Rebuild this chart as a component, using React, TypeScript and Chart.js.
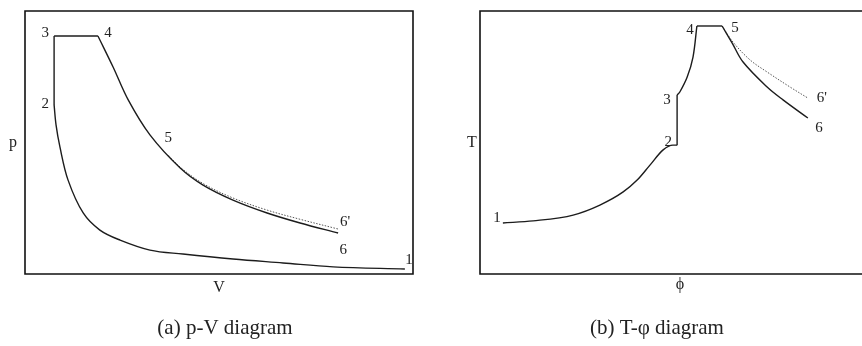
import React, { useEffect, useRef } from "react";
import { Chart, registerables } from "chart.js";
Chart.register(...registerables);

const W = 862;
const H = 346;

// ---------- (a) p-V diagram (normalised units 0..100) ----------
const pvCompV = [97.9, 79.4, 66.5, 53.6, 40.7, 32.2, 24.5, 19.3, 15.0, 11.1, 9.0, 8.0, 7.5];
const pvCompP = [1.9, 2.7, 4.2, 5.7, 7.6, 9.1, 12.9, 16.7, 23.2, 35.7, 48.3, 56.7, 64.3];
const pvIsoV = [7.5, 7.5];
const pvIsoP = [64.3, 90.5];
const pvIsobarV = [7.5, 18.8];
const pvIsobarP = [90.5, 90.5];
const pvExpV = [18.8, 22.7, 26.6, 32.2, 40.0, 45.9, 53.6, 62.4, 70.9, 80.7];
const pvExpP = [90.5, 78.7, 66.2, 52.9, 40.3, 33.8, 28.1, 23.2, 19.4, 15.6];
const pvExpDotV = [37.0, 40.0, 45.9, 53.6, 62.4, 70.9, 80.7];
const pvExpDotP = [45.1, 40.6, 34.4, 28.9, 24.3, 20.8, 17.1];
const pvLabelText = ["3", "4", "2", "5", "6'", "6", "1"];
const pvLabelV = [5.2, 21.4, 5.2, 36.9, 82.5, 82.0, 99.0];
const pvLabelP = [91.6, 91.6, 64.6, 51.7, 19.8, 9.1, 5.3];

// ---------- (b) T-phi diagram ----------
const tsCompS = [5.9, 13.7, 24.0, 30.9, 36.9, 40.5, 43.8, 47.2, 49.7, 50.8];
const tsCompT = [19.4, 20.2, 22.4, 26.2, 31.2, 35.7, 41.4, 47.2, 49.0, 49.0];
const tsIsoS = [50.8, 50.8];
const tsIsoT = [49.0, 68.1];
const tsHeatS = [50.8, 51.5, 53.4, 54.9, 55.9];
const tsHeatT = [68.1, 69.2, 74.9, 82.5, 94.3];
const tsTopS = [55.9, 62.4];
const tsTopT = [94.3, 94.3];
const tsExpS = [62.4, 65.0, 67.8, 74.0, 78.1, 84.5];
const tsExpT = [94.3, 87.8, 80.6, 71.1, 66.2, 59.3];
const tsExpDotS = [62.4, 65.2, 69.6, 74.0, 79.9, 84.5];
const tsExpDotT = [94.3, 88.2, 81.4, 76.8, 71.1, 66.9];
const tsLabelText = ["4", "5", "3", "2", "1", "6'", "6"];
const tsLabelS = [54.1, 65.7, 48.2, 48.5, 4.4, 88.1, 87.4];
const tsLabelT = [92.8, 93.5, 66.2, 50.2, 21.3, 66.9, 55.5];

const pts = (xs: number[], ys: number[]) => xs.map((x, i) => ({ x, y: ys[i] }));

const LINE = "#1c1c1c";
const SERIF = "'Liberation Serif', 'DejaVu Serif', serif";

function solid(xs: number[], ys: number[], tension = 0.35, monotone = false) {
  return {
    data: pts(xs, ys),
    showLine: true,
    borderColor: LINE,
    borderWidth: 1.4,
    pointRadius: 0,
    tension,
    cubicInterpolationMode: monotone ? "monotone" : "default",
    fill: false,
  };
}
function dotted(xs: number[], ys: number[]) {
  return {
    data: pts(xs, ys),
    showLine: true,
    borderColor: "#555",
    borderWidth: 1,
    borderDash: [1.5, 1.5],
    pointRadius: 0,
    tension: 0.35,
    fill: false,
  };
}

type PanelProps = {
  datasets: any[];
  labelText: string[];
  labelX: number[];
  labelY: number[];
  xName: string;
  yName: string;
  caption: string;
  captionDx: number;
  padding: { left: number; right: number; top: number; bottom: number };
  xMax: number;
  openRight: boolean;
  xNameDy: number;
  yNameDx: number;
};

function Panel(props: PanelProps) {
  const ref = useRef<HTMLCanvasElement | null>(null);
  useEffect(() => {
    const canvas = ref.current!;
    const deco = {
      id: "deco",
      afterDraw(chart: any) {
        const { ctx, chartArea: a, scales } = chart;
        ctx.save();
        ctx.strokeStyle = "#111";
        ctx.lineWidth = 1.6;
        ctx.beginPath();
        if (props.openRight) {
          ctx.moveTo(W + 5, a.top);
          ctx.lineTo(a.left, a.top);
          ctx.lineTo(a.left, a.bottom);
          ctx.lineTo(W + 5, a.bottom);
        } else {
          ctx.rect(a.left, a.top, a.right - a.left, a.bottom - a.top);
        }
        ctx.stroke();
        ctx.fillStyle = "#222";
        ctx.textAlign = "center";
        ctx.textBaseline = "middle";
        ctx.font = `15px ${SERIF}`;
        props.labelText.forEach((t, i) => {
          ctx.fillText(
            t,
            scales.x.getPixelForValue(props.labelX[i]),
            scales.y.getPixelForValue(props.labelY[i])
          );
        });
        ctx.font = `16px ${SERIF}`;
        ctx.fillText(props.yName, a.left + props.yNameDx, (a.top + a.bottom) / 2);
        ctx.fillText(props.xName, a.left + (props.openRight ? 200 : (a.right - a.left) / 2), a.bottom + props.xNameDy);
        ctx.font = `21px ${SERIF}`;
        ctx.fillText(props.caption, a.left + props.captionDx, 328);
        ctx.restore();
      },
    };
    const chart = new Chart(canvas, {
      type: "scatter",
      data: { datasets: props.datasets },
      options: {
        responsive: false,
        animation: false,
        devicePixelRatio: 1,
        layout: { padding: props.padding },
        plugins: { legend: { display: false }, tooltip: { enabled: false } },
        scales: {
          x: { type: "linear", min: 0, max: props.xMax, display: false },
          y: { type: "linear", min: 0, max: 100, display: false },
        },
      } as any,
      plugins: [deco],
    });
    return () => chart.destroy();
  }, []);
  return (
    <canvas
      ref={ref}
      width={W}
      height={H}
      style={{ position: "absolute", left: 0, top: 0, width: W, height: H }}
    />
  );
}

export default function App() {
  return (
    <div style={{ position: "fixed", left: 0, top: 0, width: W, height: H, background: "#fff" }}>
      <Panel
        datasets={[
          solid(pvCompV, pvCompP),
          solid(pvIsoV, pvIsoP, 0),
          solid(pvIsobarV, pvIsobarP, 0),
          solid(pvExpV, pvExpP),
          dotted(pvExpDotV, pvExpDotP),
        ]}
        labelText={pvLabelText}
        labelX={pvLabelV}
        labelY={pvLabelP}
        xName="V"
        yName="p"
        caption="(a) p-V diagram"
        captionDx={200}
        padding={{ left: 25, top: 11, right: W - 413, bottom: H - 274 }}
        xMax={100}
        openRight={false}
        xNameDy={14}
        yNameDx={-12}
      />
      <Panel
        datasets={[
          solid(tsCompS, tsCompT, 0, true),
          solid(tsIsoS, tsIsoT, 0),
          solid(tsHeatS, tsHeatT),
          solid(tsTopS, tsTopT, 0),
          solid(tsExpS, tsExpT),
          dotted(tsExpDotS, tsExpDotT),
        ]}
        labelText={tsLabelText}
        labelX={tsLabelS}
        labelY={tsLabelT}
        xName="ϕ"
        yName="T"
        caption="(b) T-φ diagram"
        captionDx={177}
        padding={{ left: 480, top: 11, right: 0, bottom: H - 274 }}
        xMax={(862 - 480) / 3.88}
        openRight={true}
        xNameDy={11}
        yNameDx={-8}
      />
    </div>
  );
}
